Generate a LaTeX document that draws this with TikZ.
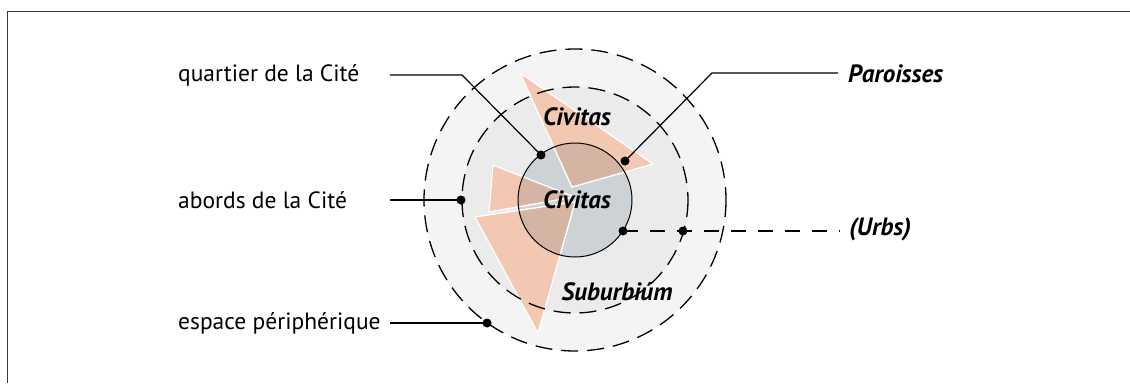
\documentclass[tikz,border=0pt]{standalone}
\usepackage{fontspec}
\setmainfont{PT Sans}
\definecolor{frame}{HTML}{3A3A3A}
\definecolor{ringout}{HTML}{F4F4F4}
\definecolor{ringmid}{HTML}{EBEBEB}
\definecolor{cite}{HTML}{CDD2D6}
\definecolor{peach}{HTML}{F2C8B2}
\definecolor{peachdark}{HTML}{D6B4A4}
\begin{document}
\begin{tikzpicture}[x=1pt,y=-1pt,
  lbl/.style={font=\fontsize{23.5}{28}\selectfont,anchor=west,inner sep=0pt},
  zone/.style={font=\fontsize{25}{30}\selectfont\bfseries\itshape,inner sep=0pt},
  dot/.style={circle,fill=black,inner sep=0pt,minimum size=9pt},
  lead/.style={line width=1.2pt},
  ring/.style={line width=1.3pt,dash pattern=on 17pt off 9pt}]
\useasboundingbox (0,0) rectangle (1130,383);
\draw[line width=1.5pt,color=frame] (7.5,383) -- (7.5,11.5) -- (1130,11.5);
% zones
\coordinate (c) at (575,200);
\fill[ringout] (c) circle (151);
\fill[ringmid] (c) circle (113);
\fill[cite] (c) circle (57);
% parishes
\coordinate (t1) at (520,73);  \coordinate (t2) at (653,164); \coordinate (t3) at (572,187);
\coordinate (l1) at (493,165); \coordinate (l2) at (489,212); \coordinate (l3) at (574,197);
\coordinate (b1) at (475,217); \coordinate (b2) at (538,333); \coordinate (b3) at (575,202);
\foreach \p/\q/\r in {t1/t2/t3,l1/l2/l3,b1/b2/b3}
  \filldraw[fill=peach,draw=white,line width=1.2pt] (\p) -- (\q) -- (\r) -- cycle;
\begin{scope}
\clip (c) circle (57);
\foreach \p/\q/\r in {t1/t2/t3,l1/l2/l3,b1/b2/b3}
  \filldraw[fill=peachdark,draw=white,line width=1.2pt] (\p) -- (\q) -- (\r) -- cycle;
\end{scope}
\draw[ring] (c) circle (151);
\draw[ring] (c) circle (113);
\draw[line width=1pt] (c) circle (57);
% zone names
\node[zone] (civtop) at (577,117) {Civitas};
\node[zone] (civin) at (577,200) {Civitas};
\node[zone] (suburb) at (617,292) {Suburbiúm};
% left labels
\node[lbl] (quartier) at (178,75) {quartier de la Cité};
\node[lbl] (abords) at (178,200) {abords de la Cité};
\node[lbl] (espace) at (178,323) {espace périphérique};
\node[dot] (dq) at (541,155) {};
\node[dot] (da) at (461,200) {};
\node[dot] (de) at (487,323) {};
\coordinate (q0) at (390,75); \coordinate (q1) at (462,75);
\coordinate (a0) at (390,200);
\coordinate (e0) at (390,323);
\draw[lead] (q0) -- (q1) -- (dq.center);
\draw[lead] (a0) -- (da.center);
\draw[lead] (e0) -- (de.center);
% right labels
\node[zone,anchor=west] (paroisses) at (848,74) {Paroisses};
\node[zone,anchor=west] (urbs) at (849,229) {(Urbs)};
\node[dot] (dp) at (625,161) {};
\node[dot] (du) at (623,231) {};
\node[dot] (dm) at (683,231) {};
\coordinate (p1) at (712,73); \coordinate (p0) at (838,73);
\coordinate (u0) at (840,231);
\draw[lead] (dp.center) -- (p1) -- (p0);
\draw[lead,dash pattern=on 15pt off 12pt] (du.center) -- (u0);
\end{tikzpicture}
\end{document}
